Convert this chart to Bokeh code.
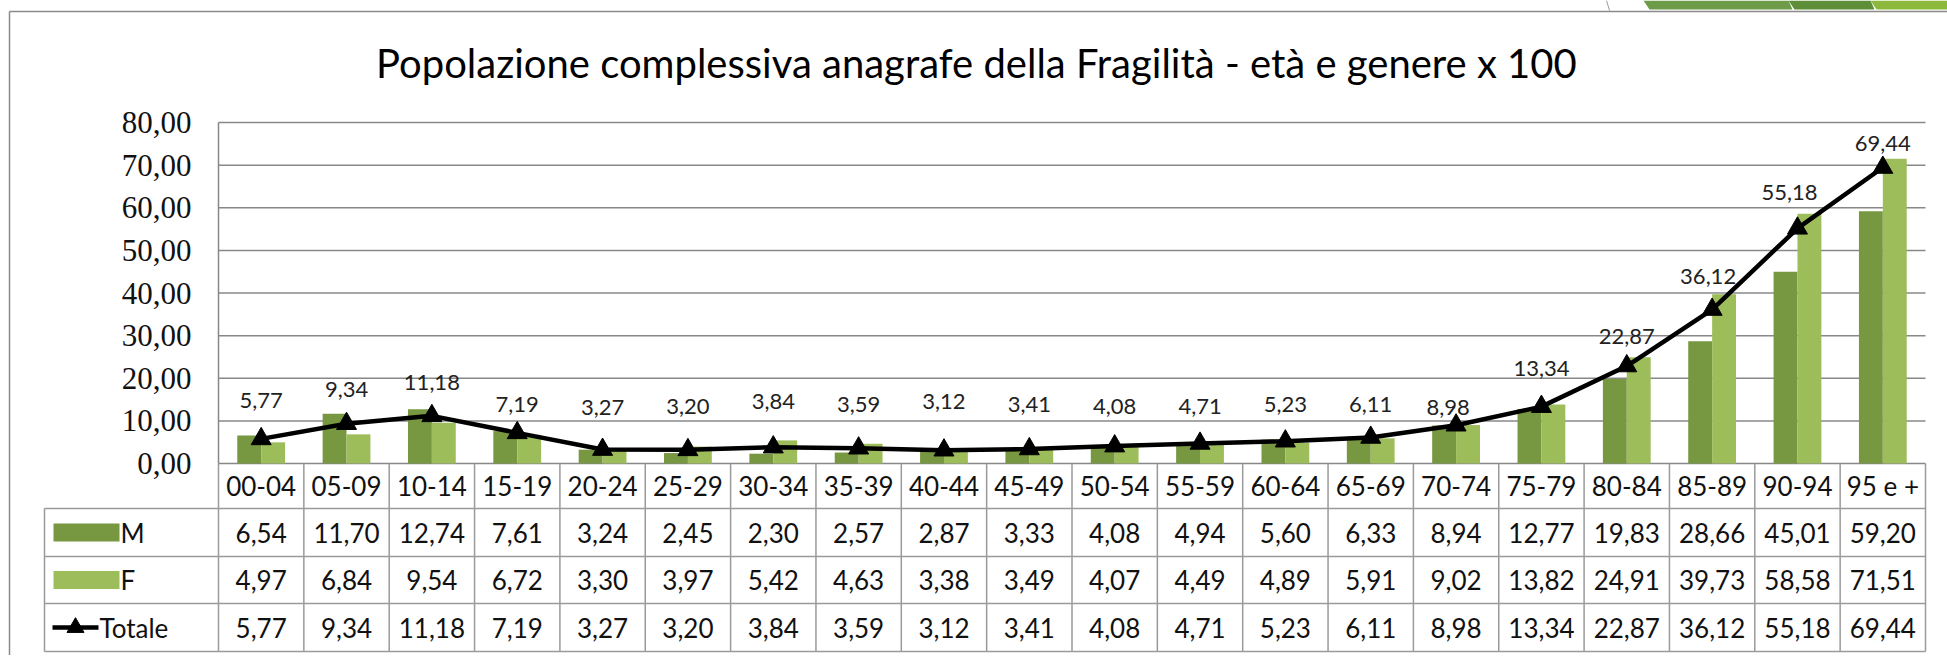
from bokeh.plotting import figure
from bokeh.models import Range1d
from bokeh.core.properties import value
from bokeh.embed import file_html
from bokeh.resources import INLINE

# ---------------- data ----------------
categories = ["00-04", "05-09", "10-14", "15-19", "20-24", "25-29", "30-34", "35-39",
              "40-44", "45-49", "50-54", "55-59", "60-64", "65-69", "70-74", "75-79",
              "80-84", "85-89", "90-94", "95 e +"]
maschi = [6.54, 11.70, 12.74, 7.61, 3.24, 2.45, 2.30, 2.57, 2.87, 3.33,
          4.08, 4.94, 5.60, 6.33, 8.94, 12.77, 19.83, 28.66, 45.01, 59.20]
femmine = [4.97, 6.84, 9.54, 6.72, 3.30, 3.97, 5.42, 4.63, 3.38, 3.49,
           4.07, 4.49, 4.89, 5.91, 9.02, 13.82, 24.91, 39.73, 58.58, 71.51]
totale = [5.77, 9.34, 11.18, 7.19, 3.27, 3.20, 3.84, 3.59, 3.12, 3.41,
          4.08, 4.71, 5.23, 6.11, 8.98, 13.34, 22.87, 36.12, 55.18, 69.44]
y_ticks = [0, 10, 20, 30, 40, 50, 60, 70, 80]
title_text = "Popolazione complessiva anagrafe  della Fragilità - età e genere x 100"
series_names = ["M", "F", "Totale"]

# ---------------- layout (page pixels) ----------------
W, H = 1947, 655
PAGE_OFF = 0        # bokeh's page template has no body margin
X0 = 218.0          # left of plot area / first table column
COLW = 85.35        # width of one category column
Y0 = 463.0          # y of the zero line
PPU = 4.2625        # pixels per value unit
LEG_LEFT = 44.0     # left edge of table legend column
ROWS = [463.0, 508.0, 556.0, 603.0, 651.0]
FRAME_L, FRAME_T = 9.0, 11.0
label_dy = [38, 34, 33, 28, 42, 43, 46, 44, 49, 44, 40, 37, 37, 33, 18, 38, 30, 33, 36, 24]
label_dx = [0, 0, 0, 0, 0, 0, 0, 0, 0, 0, 0, 0, 0, 0, -8, 0, 0, -4, -8, 0]

M_COL = "#779741"
F_COL = "#9DBD5A"
GRID = "#888888"
TXT = "#111111"


def ux(px):
    return (px - X0) / COLW


def vy(py):
    return (Y0 - py) / PPU


def fmt(v):
    return f"{v:.2f}".replace(".", ",")


p = figure(width=W, height=H, output_backend="svg", toolbar_location=None,
           x_range=Range1d(ux(PAGE_OFF), ux(PAGE_OFF + W)),
           y_range=Range1d(vy(PAGE_OFF + H), vy(PAGE_OFF)),
           x_axis_location=None, y_axis_location=None, min_border=0)
p.grid.visible = False
p.outline_line_color = None
p.background_fill_color = "white"
p.border_fill_color = "white"

n = len(categories)
centers = [i + 0.5 for i in range(n)]

# slide decoration at the top right (green band + thin divider)
band_x = [1643, 1788, 1870, 1950]
band_cols = ["#6E9B48", "#5E8E38", "#8CB93C"]
for k in range(3):
    p.patch(x=[ux(band_x[k]), ux(band_x[k + 1]), ux(band_x[k + 1] + 4), ux(band_x[k] + 6)],
            y=[vy(0), vy(0), vy(9), vy(9)], fill_color=band_cols[k], line_color=None)
p.segment(x0=[ux(1606)], y0=[vy(0)], x1=[ux(1609)], y1=[vy(10)], line_color="#9a9a9a",
          line_width=1)

# outer chart border (left and top)
p.segment(x0=[ux(FRAME_L), ux(FRAME_L)], y0=[vy(FRAME_T), vy(FRAME_T)],
          x1=[ux(FRAME_L), ux(PAGE_OFF + W + 5)], y1=[vy(PAGE_OFF + H + 5), vy(FRAME_T)],
          line_color="#8a8a8a", line_width=1.5)

# title
p.text(x=[ux(981)], y=[vy(62)], text=[title_text], text_font=value("Lato"),
       text_font_size=value("40px"), text_align="center", text_baseline="middle",
       text_color="#000000")

# gridlines
p.segment(x0=[0] * len(y_ticks), x1=[n] * len(y_ticks), y0=y_ticks, y1=y_ticks,
          line_color=GRID, line_width=1.5)
# y axis line
p.segment(x0=[0], x1=[0], y0=[0], y1=[max(y_ticks)], line_color=GRID, line_width=1.5)
# y tick labels
p.text(x=[ux(191)] * len(y_ticks), y=y_ticks, text=[fmt(t) for t in y_ticks],
       text_font=value("Liberation Serif"), text_font_size=value("31px"),
       text_align="right", text_baseline="middle", text_color=TXT)

# bars
bw = 0.28
p.vbar(x=[c - bw / 2 for c in centers], top=maschi, bottom=0, width=bw,
       fill_color=M_COL, line_color=None)
p.vbar(x=[c + bw / 2 for c in centers], top=femmine, bottom=0, width=bw,
       fill_color=F_COL, line_color=None)

# totale line + markers
p.line(x=centers, y=totale, line_color="black", line_width=4.5)
p.scatter(x=centers, y=totale, marker="triangle", size=20, fill_color="black",
          line_color="black")

# data labels
lab_x = [c + dx / COLW for c, dx in zip(centers, label_dx)]
lab_y = [t + dy / PPU for t, dy in zip(totale, label_dy)]
p.text(x=lab_x, y=lab_y, text=[fmt(t) for t in totale], text_font=value("Lato"),
       text_font_size=value("22px"), text_align="center", text_baseline="middle",
       text_color="#222222")

# ---------------- data table ----------------
TB = "#9a9a9a"
p.segment(x0=list(range(n + 1)), x1=list(range(n + 1)),
          y0=[vy(ROWS[0])] * (n + 1), y1=[vy(ROWS[-1])] * (n + 1),
          line_color=TB, line_width=1.5)
p.segment(x0=[ux(LEG_LEFT)], x1=[ux(LEG_LEFT)], y0=[vy(ROWS[1])], y1=[vy(ROWS[-1])],
          line_color=TB, line_width=1.5)
p.segment(x0=[ux(LEG_LEFT)] * 4, x1=[n] * 4, y0=[vy(r) for r in ROWS[1:]],
          y1=[vy(r) for r in ROWS[1:]], line_color=TB, line_width=1.5)

row_c = [vy((ROWS[k] + ROWS[k + 1]) / 2) for k in range(4)]
tfont = value("Lato")
tsize = value("26px")
p.text(x=centers, y=[row_c[0]] * n, text=categories, text_font=tfont, text_font_size=tsize,
       text_align="center", text_baseline="middle", text_color=TXT)
for k, series in enumerate([maschi, femmine, totale]):
    p.text(x=centers, y=[row_c[k + 1]] * n, text=[fmt(v) for v in series],
           text_font=tfont, text_font_size=tsize, text_align="center",
           text_baseline="middle", text_color=TXT)

# legend keys inside the table
key_l, key_r = ux(53), ux(119)
key_h = 18 / PPU
p.quad(left=[key_l], right=[key_r], bottom=[row_c[1] - key_h / 2], top=[row_c[1] + key_h / 2],
       fill_color=M_COL, line_color=None)
p.quad(left=[key_l], right=[key_r], bottom=[row_c[2] - key_h / 2], top=[row_c[2] + key_h / 2],
       fill_color=F_COL, line_color=None)
p.line(x=[ux(52), ux(98)], y=[row_c[3], row_c[3]], line_color="black", line_width=4.5)
p.scatter(x=[ux(75)], y=[row_c[3]], marker="triangle", size=17, fill_color="black",
          line_color="black")
p.text(x=[ux(120), ux(120), ux(99)], y=[row_c[1], row_c[2], row_c[3]], text=series_names,
       text_font=tfont, text_font_size=tsize, text_align="left", text_baseline="middle",
       text_color=TXT)

open("out.html", "w").write(file_html(p, INLINE))
